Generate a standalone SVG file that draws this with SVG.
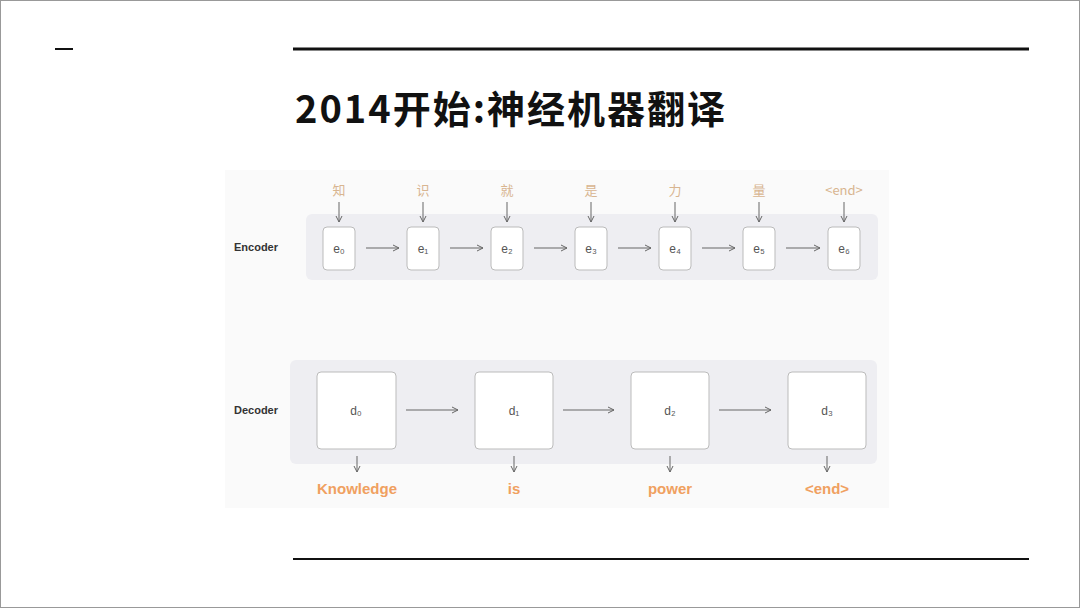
<svg xmlns="http://www.w3.org/2000/svg" width="1080" height="608" viewBox="0 0 1080 608">
<defs>
<marker id="ah" markerWidth="8" markerHeight="8" refX="7" refY="4" orient="auto" markerUnits="userSpaceOnUse"><path d="M1,1 L7,4 L1,7" fill="none" stroke="#666" stroke-width="1"/></marker>
</defs>
<style>
.box{fill:#fff;stroke:#bbb;stroke-width:1}
.band{fill:#eeeef2}
.lbl{font-family:"Liberation Sans",Arial,sans-serif;font-size:12px;fill:#555;text-anchor:middle}
.in{font-family:"Noto Sans CJK SC","Liberation Sans",sans-serif;font-size:13px;fill:#d8b590;text-anchor:middle}
.out{font-family:"Liberation Sans",Arial,sans-serif;font-size:15px;font-weight:bold;fill:#f0a060;text-anchor:middle}
.side{font-family:"Liberation Sans",Arial,sans-serif;font-size:11px;font-weight:bold;fill:#333}
.ar{stroke:#666;stroke-width:1;fill:none;marker-end:url(#ah)}
</style>
<rect x="0.5" y="0.5" width="1079" height="607" fill="#fff" stroke="#999"/>
<line x1="55" y1="49" x2="73" y2="49" stroke="#111" stroke-width="2"/>
<line x1="293" y1="49" x2="1029" y2="49" stroke="#111" stroke-width="3"/>
<line x1="293" y1="559" x2="1029" y2="559" stroke="#111" stroke-width="2"/>
<text x="295" y="123" font-family="Noto Sans CJK SC,sans-serif" font-size="38" font-weight="bold" letter-spacing="2" fill="#111">2014开始:神经机器翻译</text>
<rect x="225" y="170" width="664" height="338" fill="#fafafa"/>
<rect class="band" x="306" y="214" width="572" height="66" rx="6"/>
<rect class="band" x="290" y="360" width="587" height="104" rx="6"/>
<text class="side" x="234" y="251">Encoder</text>
<text class="side" x="234" y="414">Decoder</text>
<g id="encoder">
<g id="e0"><rect class="box" x="323" y="227" width="32" height="43" rx="4"/><text class="lbl" x="339" y="253">e₀</text></g>
<g id="e1"><rect class="box" x="407" y="227" width="32" height="43" rx="4"/><text class="lbl" x="423" y="253">e₁</text></g>
<g id="e2"><rect class="box" x="491" y="227" width="32" height="43" rx="4"/><text class="lbl" x="507" y="253">e₂</text></g>
<g id="e3"><rect class="box" x="575" y="227" width="32" height="43" rx="4"/><text class="lbl" x="591" y="253">e₃</text></g>
<g id="e4"><rect class="box" x="659" y="227" width="32" height="43" rx="4"/><text class="lbl" x="675" y="253">e₄</text></g>
<g id="e5"><rect class="box" x="743" y="227" width="32" height="43" rx="4"/><text class="lbl" x="759" y="253">e₅</text></g>
<g id="e6"><rect class="box" x="828" y="227" width="32" height="43" rx="4"/><text class="lbl" x="844" y="253">e₆</text></g>
</g>
<g id="inputs">
<text class="in" x="339" y="195">知</text><text class="in" x="423" y="195">识</text><text class="in" x="507" y="195">就</text><text class="in" x="591" y="195">是</text><text class="in" x="675" y="195">力</text><text class="in" x="759" y="195">量</text><text class="in" x="844" y="195" font-family="Liberation Sans,sans-serif" font-size="12">&lt;end&gt;</text>
</g>
<g id="decoder">
<g id="d0"><rect class="box" x="317" y="372" width="79" height="77" rx="4"/><text class="lbl" x="356" y="415">d₀</text></g>
<g id="d1"><rect class="box" x="475" y="372" width="78" height="77" rx="4"/><text class="lbl" x="514" y="415">d₁</text></g>
<g id="d2"><rect class="box" x="631" y="372" width="78" height="77" rx="4"/><text class="lbl" x="670" y="415">d₂</text></g>
<g id="d3"><rect class="box" x="788" y="372" width="78" height="77" rx="4"/><text class="lbl" x="827" y="415">d₃</text></g>
</g>
<g id="outputs">
<text class="out" x="357" y="494">Knowledge</text><text class="out" x="514" y="494">is</text><text class="out" x="670" y="494">power</text><text class="out" x="827" y="494">&lt;end&gt;</text>
</g>
<g id="connectors">
<line class="ar" x1="339" y1="202" x2="339" y2="222"/><line class="ar" x1="423" y1="202" x2="423" y2="222"/><line class="ar" x1="507" y1="202" x2="507" y2="222"/><line class="ar" x1="591" y1="202" x2="591" y2="222"/><line class="ar" x1="675" y1="202" x2="675" y2="222"/><line class="ar" x1="759" y1="202" x2="759" y2="222"/><line class="ar" x1="844" y1="202" x2="844" y2="222"/>
<line class="ar" x1="366" y1="248" x2="399" y2="248"/><line class="ar" x1="450" y1="248" x2="483" y2="248"/><line class="ar" x1="534" y1="248" x2="567" y2="248"/><line class="ar" x1="618" y1="248" x2="651" y2="248"/><line class="ar" x1="702" y1="248" x2="735" y2="248"/><line class="ar" x1="786" y1="248" x2="820" y2="248"/>
<line class="ar" x1="406" y1="410" x2="458" y2="410"/><line class="ar" x1="563" y1="410" x2="614" y2="410"/><line class="ar" x1="719" y1="410" x2="771" y2="410"/>
<line class="ar" x1="357" y1="456" x2="357" y2="472"/><line class="ar" x1="514" y1="456" x2="514" y2="472"/><line class="ar" x1="670" y1="456" x2="670" y2="472"/><line class="ar" x1="827" y1="456" x2="827" y2="472"/>
</g>
</svg>
